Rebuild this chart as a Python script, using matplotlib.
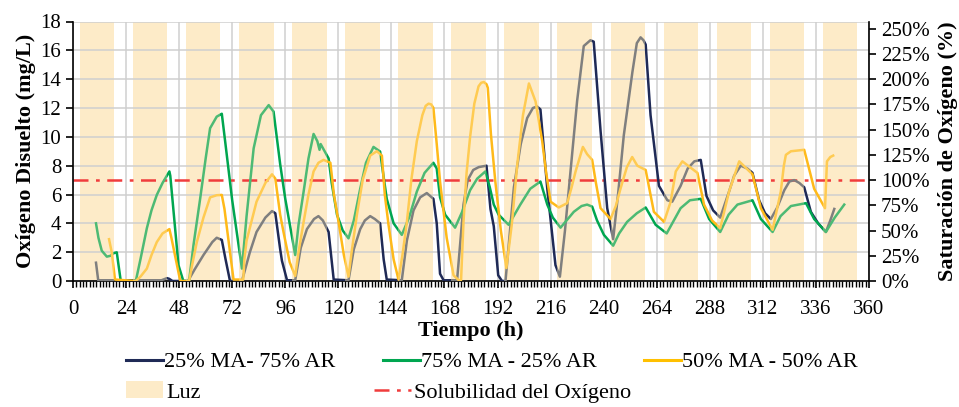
import numpy as np
import matplotlib
matplotlib.use("Agg")
import matplotlib.pyplot as plt
from matplotlib.path import Path
from matplotlib.patches import PathPatch, Patch
from matplotlib.lines import Line2D

plt.rcParams['font.family'] = ['Liberation Serif', 'DejaVu Serif']

# =============================================================
# DATA
# =============================================================

# light periods (h)
luz_inicio = [3.1, 27.1, 51.1, 75.1, 99.1, 123.1, 147.1, 171.1, 195.1,
              219.1, 243.1, 267.1, 291.1, 315.1, 339.1]
luz_fin = [18.7, 42.7, 66.7, 90.7, 114.7, 138.7, 162.7, 186.7, 210.7,
           234.7, 258.7, 282.7, 306.7, 330.7, 354.7]

solubilidad = 7.0  # mg/L  (= 100 % saturation)

# 25% MA - 75% AR
t_25 = [10.4, 11.4, 20, 30, 40, 42.5, 43.5, 45, 52, 55, 59, 63, 65, 67.3, 69, 71,
        76.4, 80, 83, 87, 90, 91.5, 93.7, 94.5, 96.8, 100.5, 103, 105.8, 109, 111,
        113, 115.6, 117.9, 124.6, 127, 129.9, 132, 134.4, 136.5, 138.9, 140.5,
        141.9, 148.7, 151, 154, 157, 160, 163, 164.5, 166, 167.6, 173.7, 176.6,
        178.5, 181, 183.5, 187, 188.8, 190.3, 192.3, 194, 195.6, 199.4, 202.5,
        205.4, 208, 209.9, 211.4, 214.5, 218.2, 220.2, 222.5, 225, 228, 231, 234,
        235.5, 238.6, 241.6, 244.3, 246.5, 249.1, 253, 255, 256.7, 258, 259, 261.2,
        265, 268.8, 271, 274.8, 278, 281, 283.9, 286.5, 289.5, 292.7, 296.7, 299,
        302, 305, 307.3, 310.3, 313, 315.6, 318.5, 321.7, 324, 326.2, 328.5, 330.7,
        333.7, 337, 340.5, 342.5, 344.3]
od_25 = [1.27, 0.05, 0.05, 0.05, 0.05, 0.2, 0.15, 0.0, 0.0, 0.8, 1.8, 2.7, 3.0, 2.85,
         1.5, 0.0, 0.0, 2.0, 3.4, 4.4, 4.85, 4.7, 2.2, 1.4, 0.05, 0.05, 2.3, 3.6, 4.3,
         4.5, 4.2, 3.4, 0.1, 0.05, 2.2, 3.6, 4.2, 4.5, 4.3, 4.0, 1.5, 0.1, 0.05, 2.8,
         4.9, 5.8, 6.1, 5.7, 4.0, 0.5, 0.05, 0.05, 5.3, 7.0, 7.7, 7.9, 8.0, 5.0, 3.8,
         0.4, 0.0, 0.0, 6.5, 9.5, 11.3, 12.0, 12.1, 11.9, 6.4, 1.1, 0.3, 3.5, 7.6,
         12.5, 16.3, 16.7, 16.6, 10.4, 5.05, 2.9, 6.0, 10.1, 14.5, 16.5, 16.9, 16.7,
         16.4, 11.5, 6.6, 5.6, 5.5, 6.6, 7.8, 8.3, 8.4, 5.9, 4.9, 4.4, 6.2, 7.3, 8.0,
         7.8, 7.5, 5.6, 4.7, 4.3, 5.1, 6.3, 6.9, 7.0, 6.8, 6.5, 4.8, 4.0, 3.4, 4.2,
         5.0]

# 75% MA - 25% AR
t_75 = [10.4, 11.5, 13, 15.3, 17, 18.2, 19.8, 20.5, 21.6, 28.4, 30.5, 33.4, 35.5,
        37.9, 40.5, 43.6, 44, 47.7, 49.9, 52.5, 54.5, 57.5, 60, 62, 65, 67.3, 68.8,
        72, 76.4, 78.5, 81.7, 85, 88.5, 90.7, 93.7, 96, 100.5, 102, 104.3, 106.5,
        108.8, 110.5, 111.5, 112, 115.6, 117, 119.4, 122, 124.6, 127, 129.9, 132.5,
        135.9, 138.9, 140.5, 141.9, 145, 148.7, 152, 155.5, 159, 163, 164.5, 166,
        168.3, 172.8, 176, 179.6, 182.8, 186.5, 188.5, 190.3, 192.5, 197, 202.3,
        206.8, 211.4, 214.5, 217, 220.5, 226.5, 230, 232.5, 234.8, 237, 240.1,
        244.3, 247, 250.6, 255, 259, 263.5, 268.5, 274.8, 279, 283.9, 287.7, 292.7,
        296.5, 300.5, 307.3, 311.1, 316.4, 320, 324.7, 331.5, 335.2, 340.5, 344.5,
        348.8]
od_75 = [4.0, 3.0, 2.1, 1.69, 1.75, 1.92, 1.99, 1.2, 0.0, 0.0, 1.5, 3.66, 4.9, 5.97,
         6.8, 7.6, 7.3, 1.1, 0.0, 0.0, 2.5, 5.7, 8.5, 10.6, 11.4, 11.6, 9.7, 5.6,
         0.86, 4.5, 9.2, 11.5, 12.2, 11.75, 8.1, 5.7, 1.8, 3.9, 6.2, 8.5, 10.2, 9.7,
         9.1, 9.5, 8.5, 6.8, 4.6, 3.5, 2.96, 4.2, 6.4, 8.2, 9.3, 8.98, 7.2, 5.7, 4.0,
         3.2, 4.4, 6.2, 7.5, 8.2, 7.8, 5.8, 4.6, 3.7, 4.8, 6.3, 7.1, 7.6, 6.5, 5.3,
         4.6, 3.9, 5.3, 6.4, 6.9, 5.3, 4.4, 3.7, 4.8, 5.2, 5.3, 5.16, 4.2, 3.2, 2.45,
         3.3, 4.1, 4.7, 5.1, 3.9, 3.3, 5.05, 5.6, 5.7, 4.3, 3.4, 4.6, 5.3, 5.6, 4.3,
         3.4, 4.5, 5.2, 5.4, 4.3, 3.4, 4.4, 5.3]

# 50% MA - 50% AR
t_50 = [16.3, 17.5, 19, 28.4, 30.5, 33.4, 35.5, 37.9, 40.5, 43.6, 44.5, 48.5, 52.5,
        54, 56, 59, 62, 65, 67.3, 68.5, 72.6, 77, 77.5, 78.5, 81, 83, 87, 90, 91.5,
        93.7, 95.2, 98, 100.5, 102, 104.3, 106.5, 108.8, 111, 113.3, 116.4, 118,
        120.1, 122.5, 124.6, 126, 128.4, 131, 134.4, 137.4, 139.7, 141, 142.7, 145,
        147.2, 149, 151, 153, 155.5, 158, 159.5, 160.8, 162, 163, 164.5, 166, 169,
        172.1, 174.5, 175.5, 176.6, 178, 179.6, 181.5, 183.4, 184.6, 185.8, 187,
        187.6, 189, 191, 193.5, 196, 198.5, 200.9, 203.5, 206.2, 209.2, 212.2, 214,
        216, 219.7, 223.5, 225.5, 227.3, 230.6, 232.5, 234.8, 236.5, 238.6, 243.1,
        245.5, 247.6, 250.5, 252.9, 255.2, 259, 262.7, 267.3, 270.3, 272.6, 275.6,
        282.4, 285.4, 289, 292.7, 296.7, 301.3, 307.3, 311.1, 316.4, 320.1, 321.5,
        322.4, 324.7, 330.7, 335.2, 340.1, 341, 342.5, 343.8]
od_50 = [2.9, 2.0, 0.1, 0.0, 0.3, 0.86, 1.8, 2.7, 3.3, 3.6, 3.0, 0.0, 0.0, 1.2, 2.7,
         4.4, 5.8, 5.95, 5.97, 5.0, 0.1, 0.1, 1.5, 2.8, 4.3, 5.5, 6.8, 7.4, 7.1, 4.6,
         3.4, 1.3, 0.35, 2.0, 4.1, 6.0, 7.6, 8.2, 8.4, 8.2, 6.0, 4.1, 1.8, 0.3, 2.0,
         4.6, 7.0, 8.7, 9.0, 8.7, 6.0, 3.9, 1.5, 0.1, 1.8, 4.1, 7.0, 9.7, 11.5, 12.15,
         12.3, 12.25, 12.0, 9.5, 6.9, 3.0, 0.4, 0.05, 0.05, 4.1, 7.5, 10.0, 12.3, 13.5,
         13.75, 13.8, 13.65, 13.4, 10.2, 6.9, 3.5, 0.9, 4.0, 8.05, 11.5, 13.7, 12.45,
         9.7, 7.5, 5.5, 5.1, 5.4, 6.5, 7.6, 9.3, 8.8, 8.4, 6.8, 5.05, 4.3, 5.2, 6.4,
         7.9, 8.6, 8.0, 7.7, 4.8, 4.1, 5.5, 7.6, 8.3, 7.5, 5.3, 4.2, 3.66, 6.2, 8.3,
         7.4, 5.05, 3.55, 6.2, 8.0, 8.75, 9.0, 9.1, 6.4, 5.05, 8.3, 8.6, 8.7]

series = [
    ("25% MA- 75% AR", t_25, od_25, "#1F2A56", "#7F7F7F"),
    ("75% MA - 25% AR", t_75, od_75, "#00A650", "#4DBA74"),
    ("50% MA - 50% AR", t_50, od_50, "#FFBA1A", "#FFCB52"),
]

xticks = list(range(0, 361, 24))
sat_ticks = list(range(0, 251, 25))


def band_path(intervals):
    verts, codes = [], []
    for a, b in intervals:
        verts += [(a, -5), (b, -5), (b, 25), (a, 25), (a, -5)]
        codes += [Path.MOVETO, Path.LINETO, Path.LINETO, Path.LINETO, Path.CLOSEPOLY]
    return Path(verts, codes)


# =============================================================
# PLOTTING
# =============================================================

fig = plt.figure(figsize=(9.59, 4.07), dpi=100)
ax = fig.add_axes([73 / 959, 1 - 281 / 407, 796 / 959, 259.5 / 407])

ax.set_axisbelow(True)
ax.grid(True, color="#CFCFCF", linewidth=1.1)

# light bands
luz_centro = [(a + b) / 2 for a, b in zip(luz_inicio, luz_fin)]
luz_ancho = [b - a for a, b in zip(luz_inicio, luz_fin)]
ax.bar(luz_centro, 18, width=luz_ancho, bottom=0, color="#FDEBC8",
       zorder=0.2, linewidth=0)

# oxygen solubility
dashdot = (0, (6, 3, 1.5, 3))
ax.axhline(solubilidad, color="#F03C3C", linestyle=dashdot,
           linewidth=1.8, zorder=2)

light_iv = list(zip(luz_inicio, luz_fin))
dark_iv = [(0 - 5, luz_inicio[0])]
dark_iv += [(luz_fin[i], luz_inicio[i + 1]) for i in range(len(luz_fin) - 1)]
dark_iv += [(luz_fin[-1], 365)]

for name, t, od, dark_c, light_c in series:
    ln_dark, = ax.plot(t, od, color=dark_c, linewidth=1.8, zorder=3)
    ln_dark.set_clip_path(PathPatch(band_path(dark_iv), transform=ax.transData))
    ln_light, = ax.plot(t, od, color=light_c, linewidth=1.8, zorder=3)
    ln_light.set_clip_path(PathPatch(band_path(light_iv), transform=ax.transData))

ax.set_xlim(0, 360)
ax.set_ylim(0, 18)
ax.set_xticks(xticks)
ax.set_xticks(np.arange(0, 361, 1.5), minor=True)
ax.set_yticks(range(0, 19, 2))

for side in ["top", "right"]:
    ax.spines[side].set_visible(False)
for side in ["left", "bottom"]:
    ax.spines[side].set_color("black")
    ax.spines[side].set_linewidth(1.2)

ax.tick_params(axis="both", which="major", direction="out", length=5,
               width=1.2, labelsize=15, color="black")
ax.tick_params(axis="x", which="minor", direction="out", length=4, width=1)
ax.tick_params(axis="x", pad=9)

ax.set_xlabel("Tiempo (h)", fontsize=16, fontweight="bold", labelpad=1)
ax.set_ylabel("Oxígeno Disuelto (mg/L)", fontsize=16, fontweight="bold",
              labelpad=3)

# saturation axis
ax2 = ax.twinx()
ax2.set_ylim(0, 18 / solubilidad * 100)
ax2.set_yticks(sat_ticks)
ax2.set_yticklabels([f"{s}%" for s in sat_ticks])
for side in ["top", "left", "bottom"]:
    ax2.spines[side].set_visible(False)
ax2.spines["right"].set_linewidth(1.2)
ax2.tick_params(axis="y", direction="out", length=5, width=1.2, labelsize=15)
ax2.set_ylabel("Saturación de Oxígeno (%)", fontsize=16, fontweight="bold",
               rotation=90, labelpad=6)

# legend: series row
h_series = [Line2D([], [], color=c, linewidth=2.2)
            for c in ["#1F2A56", "#00A650", "#FFC000"]]
fig.legend(h_series, [s[0] for s in series], loc="center left",
           bbox_to_anchor=(126 / 959, 1 - 362 / 407), ncol=3, frameon=False,
           fontsize=16, handlelength=1.65, handletextpad=0.05,
           columnspacing=2.15, borderpad=0, borderaxespad=0)

# legend: light / solubility row
h_extra = [Patch(facecolor="#FDEBC8", edgecolor="none"),
           Line2D([], [], color="#F03C3C", linewidth=1.8, linestyle=dashdot)]
fig.legend(h_extra, ["Luz", "Solubilidad del Oxígeno"], loc="center left",
           bbox_to_anchor=(126 / 959, 1 - 392 / 407), ncol=2, frameon=False,
           fontsize=16, handlelength=1.65, handleheight=0.8, handletextpad=0.15,
           columnspacing=7.8, borderpad=0, borderaxespad=0)

fig.savefig("out.png", dpi=100)
